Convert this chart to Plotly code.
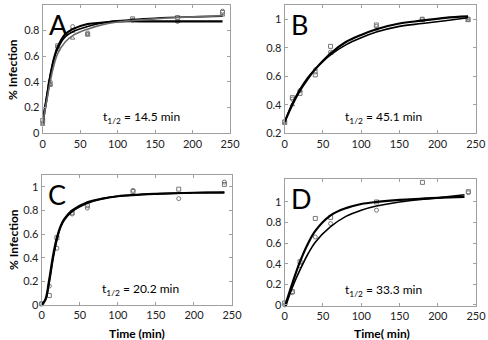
import plotly.graph_objects as go

# ---- data ----
time_pts = [0, 10, 20, 40, 60, 120, 180, 240]

# Panel A
a_sq = [0.10, 0.38, 0.68, 0.80, 0.77, 0.89, 0.90, 0.94]
a_ci = [0.08, 0.40, 0.67, 0.83, 0.78, 0.88, 0.87, 0.95]
a_tr = [0.07, 0.38, 0.65, 0.74, 0.77, 0.88, 0.87, 0.92]
a_fit_t = [0, 5, 10, 15, 20, 30, 40, 60, 80, 100, 150, 200, 240]
a_fit1 = [0.08, 0.26, 0.44, 0.58, 0.67, 0.77, 0.81, 0.85, 0.86, 0.87, 0.87, 0.87, 0.87]
a_fit2 = [0.10, 0.28, 0.45, 0.58, 0.66, 0.75, 0.79, 0.83, 0.86, 0.875, 0.895, 0.905, 0.91]
a_fit3 = [0.08, 0.24, 0.40, 0.53, 0.62, 0.71, 0.76, 0.81, 0.845, 0.865, 0.89, 0.905, 0.915]

# Panel B
b_sq = [0.28, 0.45, 0.48, 0.61, 0.81, 0.96, 1.00, 1.00]
b_ci = [0.28, 0.44, 0.50, 0.63, 0.77, 0.95, 1.00, 1.00]
b_tr = [0.27, 0.40, 0.50, 0.65, 0.76, 0.93, 0.99, 0.99]
b_fit_t = [0, 10, 20, 30, 40, 60, 80, 100, 120, 150, 180, 210, 240]
b_fit1 = [0.28, 0.40, 0.50, 0.58, 0.65, 0.76, 0.84, 0.89, 0.93, 0.97, 0.99, 1.01, 1.02]
b_fit2 = [0.28, 0.41, 0.51, 0.59, 0.65, 0.75, 0.82, 0.87, 0.91, 0.95, 0.97, 0.99, 1.01]

# Panel C
c_sq = [0.01, 0.08, 0.57, 0.78, 0.84, 0.96, 0.98, 1.02]
c_ci = [0.01, 0.16, 0.48, 0.77, 0.82, 0.97, 0.90, 1.04]
c_fit_t = [0, 5, 10, 15, 20, 25, 30, 40, 60, 80, 100, 150, 200, 240]
c_fit1 = [0.00, 0.05, 0.22, 0.42, 0.57, 0.67, 0.73, 0.80, 0.87, 0.90, 0.92, 0.94, 0.95, 0.95]
c_fit2 = [0.00, 0.04, 0.19, 0.39, 0.55, 0.66, 0.72, 0.79, 0.86, 0.90, 0.92, 0.94, 0.95, 0.955]

# Panel D
d_sq = [0.02, 0.13, 0.42, 0.84, 0.85, 1.00, 1.19, 1.10]
d_ci = [0.00, 0.12, 0.38, 0.66, 0.79, 0.92, None, 1.09]
d_fit_t = [0, 10, 20, 30, 40, 60, 80, 100, 120, 150, 200, 235]
d_fit1 = [-0.02, 0.21, 0.42, 0.59, 0.72, 0.87, 0.94, 0.98, 1.00, 1.02, 1.04, 1.05]
d_fit2 = [-0.04, 0.17, 0.34, 0.49, 0.61, 0.76, 0.86, 0.92, 0.96, 1.00, 1.04, 1.07]

x_ticks = [0, 50, 100, 150, 200, 250]

panels = [
    dict(letter="A", half="14.5", pts=[a_sq, a_ci, a_tr], fit_t=a_fit_t,
         fits=[a_fit1, a_fit2, a_fit3], yr=[0, 1], yt=[0, 0.2, 0.4, 0.6, 0.8, 1]),
    dict(letter="B", half="45.1", pts=[b_sq, b_ci, b_tr], fit_t=b_fit_t,
         fits=[b_fit1, b_fit2], yr=[0.2, 1.1], yt=[0.2, 0.4, 0.6, 0.8, 1]),
    dict(letter="C", half="20.2", pts=[c_sq, c_ci], fit_t=c_fit_t,
         fits=[c_fit1, c_fit2], yr=[0, 1.1], yt=[0, 0.2, 0.4, 0.6, 0.8, 1]),
    dict(letter="D", half="33.3", pts=[d_sq, d_ci], fit_t=d_fit_t,
         fits=[d_fit1, d_fit2], yr=[-0.01, 1.22], yt=[0, 0.2, 0.4, 0.6, 0.8, 1]),
]

W, H = 488, 340
# pixel boxes (left, right, top, bottom)
boxes = [(42.7, 230, 4.7, 133.3), (284.7, 475.7, 5, 133.3),
         (41.7, 232, 175, 305), (284.7, 476, 179.3, 306)]

fig = go.Figure()
symbols = ["square-open", "circle-open", "triangle-up-open"]
fit_styles = [dict(color="black", width=2.2), dict(color="black", width=1.6),
              dict(color="#6a6a6a", width=1.6)]

FONT = "Lato, 'Open Sans', sans-serif"

for i, p in enumerate(panels):
    xa = "x" if i == 0 else f"x{i+1}"
    ya = "y" if i == 0 else f"y{i+1}"
    for j, ys in enumerate(p["pts"]):
        fig.add_trace(go.Scatter(x=time_pts, y=ys, mode="markers", xaxis=xa, yaxis=ya,
                                 marker=dict(symbol=symbols[j], size=4, color="#777",
                                             line=dict(width=1, color="#777")),
                                 showlegend=False, cliponaxis=False))
    for j, ys in enumerate(p["fits"]):
        fig.add_trace(go.Scatter(x=p["fit_t"], y=ys, mode="lines", xaxis=xa, yaxis=ya,
                                 line=dict(shape="spline", **fit_styles[j]),
                                 showlegend=False))
    l, r, t, b = boxes[i]
    axkw = dict(showgrid=False, zeroline=False, showline=True, linecolor="#a0a0a0",
                linewidth=1, mirror="ticks", ticks="inside", ticklen=3, automargin=False,
                tickcolor="#a0a0a0", tickfont=dict(family=FONT, size=11, color="#222"))
    fig.layout[("xaxis" if i == 0 else f"xaxis{i+1}")] = dict(
        domain=[l / W, r / W], anchor=ya, range=[0, 250], tickvals=x_ticks, **axkw)
    fig.layout[("yaxis" if i == 0 else f"yaxis{i+1}")] = dict(
        domain=[1 - b / H, 1 - t / H], anchor=xa, range=p["yr"], tickvals=p["yt"],
        ticktext=[("%g" % v) for v in p["yt"]], **axkw)
    # letter
    fig.add_annotation(x=(l + 4) / W, y=1 - (t + 1) / H, xref="paper", yref="paper",
                       text=p["letter"], showarrow=False, xanchor="left", yanchor="top",
                       font=dict(family=FONT, size=27, color="black"))
    # half-life
    fig.add_annotation(x=(l + 58) / W, y=1 - (b - 16) / H, xref="paper", yref="paper",
                       text=f"t<sub>1/2</sub> = {p['half']} min", showarrow=False,
                       xanchor="left", yanchor="middle",
                       font=dict(family=FONT, size=12, color="black"))

# axis titles
for yc in [70, 240]:
    fig.add_annotation(x=13 / W, y=1 - yc / H, xref="paper", yref="paper",
                       text="<b>% Infection</b>", showarrow=False, textangle=-90,
                       xanchor="center", yanchor="middle",
                       font=dict(family=FONT, size=12, color="black"))
fig.add_annotation(x=137 / W, y=1 - 333 / H, xref="paper", yref="paper",
                   text="<b>Time (min)</b>", showarrow=False,
                   xanchor="center", yanchor="middle",
                   font=dict(family=FONT, size=12, color="black"))
fig.add_annotation(x=382 / W, y=1 - 333 / H, xref="paper", yref="paper",
                   text="<b>Time( min)</b>", showarrow=False,
                   xanchor="center", yanchor="middle",
                   font=dict(family=FONT, size=12, color="black"))

fig.update_layout(width=W, height=H, margin=dict(l=0, r=0, t=0, b=0, autoexpand=False),
                  paper_bgcolor="white", plot_bgcolor="white", showlegend=False)

fig.write_html("out.html", config={"displayModeBar": False},
               post_script="document.body.style.margin='0';document.body.style.overflow='hidden';")
